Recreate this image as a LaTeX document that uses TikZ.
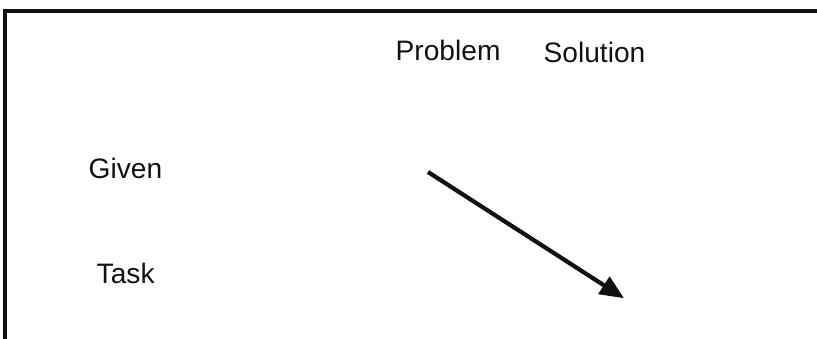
\documentclass[tikz,border=0pt]{standalone}
\usepackage{fontspec}
\setmainfont{Liberation Sans}
\usetikzlibrary{arrows.meta, positioning}
\definecolor{pgInk}{HTML}{111111}
\tikzset{
  heading/.style={font=\fontsize{8}{9.6}\selectfont, text=pgInk, inner sep=0pt, anchor=base west},
  rowlbl/.style={heading},
  frameline/.style={draw=pgInk, line width=1.1pt},
  mapflow/.style={-{Triangle[length=2.4mm, width=2mm]}, line width=1.2pt, draw=pgInk, shorten >=-0.6mm},
}

\begin{document}
\begin{tikzpicture}[x=0.01cm, y=-0.01cm]
  \useasboundingbox (0,0) rectangle (817,339);
  % frame: top rule and left rule
  \draw[frameline] (5,339) -- (5,11) -- (817,11);

  \node[heading] (problem)  at (395,60) {Problem};
  \node[heading] (solution) at (543,62) {Solution};
  \node[rowlbl]  (given)    at (88,178) {Given};
  \node[rowlbl]  (task)     at (96,283) {Task};

  \coordinate (from) at (428,172);
  \coordinate (to)   at (619,295);
  \draw[mapflow] (from) -- (to);
\end{tikzpicture}
\end{document}
